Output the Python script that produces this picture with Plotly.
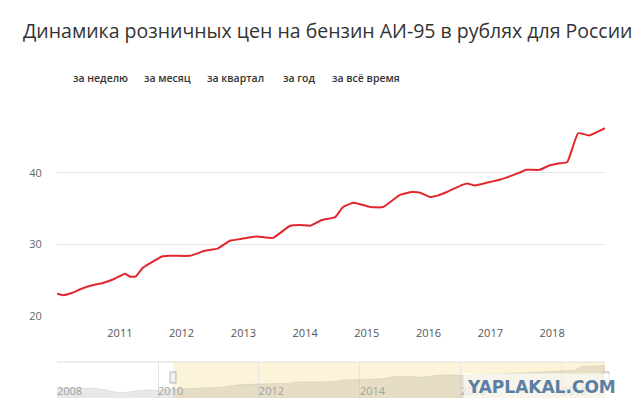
import plotly.graph_objects as go

# the page body has an 8px margin, so the figure is drawn 8px in from the top-left
OFF = 8
W, H = 640 - OFF, 418 - OFF

# ---- data ----
dates = ["2009-12-25", "2010-01-28", "2010-03-22", "2010-05-19", "2010-07-22", "2010-09-22",
         "2010-12-01", "2011-02-01", "2011-02-28", "2011-04-04", "2011-05-16", "2011-06-25",
         "2011-09-07", "2011-10-22", "2012-02-19", "2012-04-01", "2012-05-16", "2012-08-01",
         "2012-10-13", "2012-12-28", "2013-03-19", "2013-06-25", "2013-10-04", "2013-12-01",
         "2014-02-01", "2014-04-10", "2014-06-28", "2014-08-13", "2014-10-13", "2014-11-22",
         "2015-01-22", "2015-04-07", "2015-07-16", "2015-09-25", "2015-11-13", "2016-01-10",
         "2016-02-22", "2016-04-19", "2016-07-19", "2016-08-16", "2016-10-01", "2016-12-28",
         "2017-02-25", "2017-06-22", "2017-08-01", "2017-10-19", "2017-12-16", "2018-02-13",
         "2018-04-01", "2018-06-04", "2018-08-10", "2018-11-10"]
prices = [23.1, 22.9, 23.2, 23.8, 24.3, 24.6,
          25.2, 25.9, 25.5, 25.5, 26.7, 27.3,
          28.3, 28.4, 28.4, 28.7, 29.1, 29.4,
          30.5, 30.8, 31.1, 30.9, 32.6, 32.7,
          32.6, 33.4, 33.8, 35.2, 35.8, 35.6,
          35.2, 35.2, 36.9, 37.3, 37.2, 36.6,
          36.8, 37.3, 38.3, 38.5, 38.2, 38.7,
          39.0, 40.0, 40.4, 40.4, 41.0, 41.3,
          41.5, 45.5, 45.2, 46.2]

# earlier history shown only in the navigator
early_dates = ["2008-01-01", "2008-04-01", "2008-07-01", "2008-10-01", "2009-01-01",
               "2009-03-01", "2009-05-01", "2009-07-01", "2009-09-01"]
early_prices = [24.7, 24.9, 25.0, 24.8, 23.0, 21.0, 20.6, 22.0, 23.0]

x_tick_years = ["2011", "2012", "2013", "2014", "2015", "2016", "2017", "2018"]
nav_tick_years = ["2008", "2010", "2012", "2014", "2016", "2018"]
y_ticks = [20, 30, 40, 50]
y_ticktext = ["20", "30", "40", ""]
period_buttons = ["за неделю", "за месяц", "за квартал", "за год", "за всё время"]
title_text = "Динамика розничных цен на бензин АИ-95 в рублях для России"

FONT = "Open Sans"

def px(x):
    # x in screenshot pixels -> paper fraction
    return (x - OFF) / W

def py(y):
    # y in screenshot pixels (from top) -> paper fraction
    return (418 - y) / H

fig = go.Figure()

# main line
fig.add_trace(go.Scatter(x=dates, y=prices, mode="lines",
                         line=dict(color="#e2272c", width=2, shape="spline", smoothing=0.4),
                         xaxis="x", yaxis="y", hoverinfo="skip", showlegend=False))

# navigator area
nav_x = early_dates + dates
nav_y = early_prices + prices
fig.add_trace(go.Scatter(x=nav_x, y=nav_y, mode="lines", fill="tozeroy",
                         line=dict(color="rgba(0,0,0,0.06)", width=1),
                         fillcolor="rgba(0,0,0,0.09)",
                         xaxis="x2", yaxis="y2", hoverinfo="skip", showlegend=False))

shapes = []
# navigator selection background
shapes.append(dict(type="rect", xref="x2", yref="paper",
                   x0="2010-04-20", x1="2018-11-10", y0=py(398), y1=py(362),
                   fillcolor="#fcf4d9", line=dict(width=0), layer="below"))
# navigator top border
shapes.append(dict(type="line", xref="paper", yref="paper",
                   x0=px(57), x1=px(605), y0=py(362), y1=py(362),
                   line=dict(color="#dddddd", width=1)))
# handles
for hx0, hx1 in [(170, 176), (603, 609)]:
    shapes.append(dict(type="rect", xref="paper", yref="paper",
                       x0=px(hx0), x1=px(hx1), y0=py(383), y1=py(372),
                       fillcolor="#f2f2f2", line=dict(color="#b5b5b5", width=1)))
# right-edge page fragments
for y0, y1 in [(123, 151), (180, 208), (238, 267), (296, 323), (353, 382)]:
    shapes.append(dict(type="rect", xref="paper", yref="paper",
                       x0=px(633), x1=px(641), y0=py(y1), y1=py(y0),
                       fillcolor="#f3f3f3", line=dict(width=0)))

annotations = [
    dict(text=title_text, x=px(21), y=py(30), xref="paper", yref="paper",
         xanchor="left", yanchor="middle", showarrow=False,
         font=dict(family=FONT, size=19.5, color="#333333")),
    dict(text="YAPLAKAL.COM", x=px(541), y=py(387), xref="paper", yref="paper",
         xanchor="center", yanchor="middle", showarrow=False,
         bgcolor="rgba(255,255,255,0.65)", borderpad=3,
         font=dict(family="DejaVu Sans", size=17, color="#5b7fa3", weight="bold")),
]
btn_centers = [100, 167, 235, 299, 366]
for label, cx in zip(period_buttons, btn_centers):
    annotations.append(dict(text=label, x=px(cx), y=py(78), xref="paper", yref="paper",
                            xanchor="center", yanchor="middle", showarrow=False,
                            font=dict(family=FONT, size=10.5, color="#333333", weight=600)))

fig.update_layout(
    width=W, height=H,
    margin=dict(l=0, r=0, t=0, b=0, autoexpand=False),
    paper_bgcolor="white", plot_bgcolor="rgba(0,0,0,0)",
    showlegend=False,
    font=dict(family=FONT),
    xaxis=dict(domain=[px(57), px(605)], range=["2009-12-25", "2018-11-10"],
               type="date", tickvals=[y + "-01-01" for y in x_tick_years],
               ticktext=x_tick_years, automargin=False,
               showgrid=False, zeroline=False, showline=False,
               ticks="outside", ticklen=7, tickcolor="rgba(0,0,0,0)",
               tickfont=dict(family=FONT, size=11, color="#555555"),
               fixedrange=True),
    yaxis=dict(domain=[py(316), py(101)], range=[20, 50],
               tickvals=y_ticks, ticktext=y_ticktext, automargin=False,
               showgrid=True, gridcolor="#e6e6e6", gridwidth=1,
               zeroline=False, showline=False,
               ticks="outside", ticklen=12, tickcolor="rgba(0,0,0,0)",
               tickfont=dict(family=FONT, size=11, color="#666666"),
               fixedrange=True),
    xaxis2=dict(domain=[px(57), px(605)], range=["2008-01-01", "2018-11-10"],
                type="date", anchor="free", position=py(403), automargin=False,
                tickvals=[y + "-01-01" for y in nav_tick_years], ticktext=nav_tick_years,
                showgrid=True, gridcolor="#e6e6e6", gridwidth=1,
                zeroline=False, showline=False, ticks="",
                ticklabelposition="inside right",
                tickfont=dict(family=FONT, size=11, color="#a0a0a0"),
                fixedrange=True),
    yaxis2=dict(domain=[py(398), py(362)], range=[15.5, 49.2], anchor="x2",
                automargin=False,
                showgrid=False, zeroline=False, showline=False,
                showticklabels=False, ticks="", fixedrange=True),
    shapes=shapes,
    annotations=annotations,
)

fig.write_html("out.html", config={"displayModeBar": False})
